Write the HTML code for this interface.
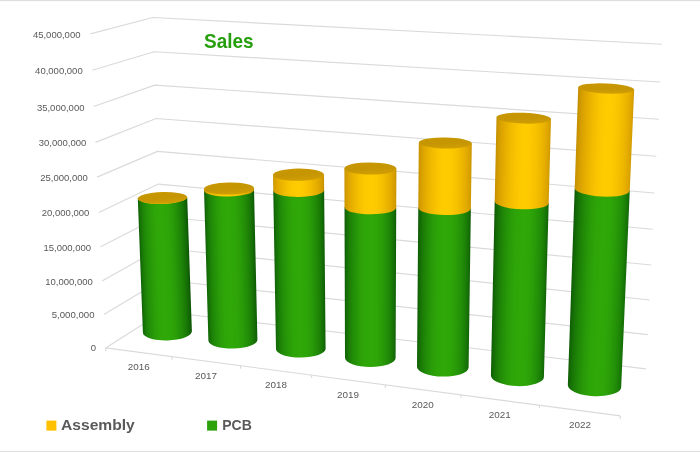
<!DOCTYPE html>
<html lang="en"><head><meta charset="utf-8"><title>Sales</title>
<style>html,body{margin:0;padding:0;background:#fff;overflow:hidden}body{width:700px;height:452px;position:relative}</style></head>
<body>
<svg width="700" height="452" viewBox="0 0 700 452" style="display:block;position:absolute;left:0;top:0">
<defs>
<linearGradient id="g0" gradientUnits="userSpaceOnUse" x1="137.80" y1="0" x2="187.20" y2="0" gradientTransform="matrix(1,0,0.03657,1,-7.237,0)"><stop offset="0.000" stop-color="#0e5f04"/><stop offset="0.038" stop-color="#167306"/><stop offset="0.094" stop-color="#1e8507"/><stop offset="0.164" stop-color="#249208"/><stop offset="0.258" stop-color="#2a9e08"/><stop offset="0.352" stop-color="#2ea608"/><stop offset="0.470" stop-color="#2fa808"/><stop offset="0.603" stop-color="#2da408"/><stop offset="0.709" stop-color="#289908"/><stop offset="0.815" stop-color="#208807"/><stop offset="0.894" stop-color="#197806"/><stop offset="0.958" stop-color="#126605"/><stop offset="1.000" stop-color="#0b5204"/></linearGradient>
<linearGradient id="y0" gradientUnits="userSpaceOnUse" x1="137.80" y1="0" x2="187.20" y2="0" gradientTransform="matrix(1,0,0.03657,1,-7.237,0)"><stop offset="0.000" stop-color="#cf9900"/><stop offset="0.038" stop-color="#dda500"/><stop offset="0.094" stop-color="#e7af00"/><stop offset="0.164" stop-color="#efb900"/><stop offset="0.258" stop-color="#f7c300"/><stop offset="0.352" stop-color="#fdc900"/><stop offset="0.470" stop-color="#ffcc00"/><stop offset="0.603" stop-color="#fbc600"/><stop offset="0.709" stop-color="#f2bc00"/><stop offset="0.815" stop-color="#e6ae00"/><stop offset="0.894" stop-color="#dba300"/><stop offset="0.958" stop-color="#cf9800"/><stop offset="1.000" stop-color="#c08c00"/></linearGradient>
<linearGradient id="g1" gradientUnits="userSpaceOnUse" x1="204.00" y1="0" x2="254.00" y2="0" gradientTransform="matrix(1,0,0.02574,1,-4.852,0)"><stop offset="0.000" stop-color="#0e5d04"/><stop offset="0.038" stop-color="#157106"/><stop offset="0.096" stop-color="#1d8307"/><stop offset="0.168" stop-color="#239008"/><stop offset="0.264" stop-color="#2a9d08"/><stop offset="0.360" stop-color="#2ea608"/><stop offset="0.480" stop-color="#2fa808"/><stop offset="0.610" stop-color="#2da408"/><stop offset="0.714" stop-color="#289a08"/><stop offset="0.818" stop-color="#218a07"/><stop offset="0.896" stop-color="#1a7a06"/><stop offset="0.958" stop-color="#136805"/><stop offset="1.000" stop-color="#0c5404"/></linearGradient>
<linearGradient id="y1" gradientUnits="userSpaceOnUse" x1="204.00" y1="0" x2="254.00" y2="0" gradientTransform="matrix(1,0,0.02574,1,-4.852,0)"><stop offset="0.000" stop-color="#cc9700"/><stop offset="0.038" stop-color="#dba300"/><stop offset="0.096" stop-color="#e5ad00"/><stop offset="0.168" stop-color="#eeb700"/><stop offset="0.264" stop-color="#f6c200"/><stop offset="0.360" stop-color="#fdc800"/><stop offset="0.480" stop-color="#ffcc00"/><stop offset="0.610" stop-color="#fbc600"/><stop offset="0.714" stop-color="#f3bd00"/><stop offset="0.818" stop-color="#e8b000"/><stop offset="0.896" stop-color="#dda500"/><stop offset="0.958" stop-color="#d19a00"/><stop offset="1.000" stop-color="#c28e00"/></linearGradient>
<linearGradient id="g2" gradientUnits="userSpaceOnUse" x1="273.00" y1="0" x2="324.00" y2="0" gradientTransform="matrix(1,0,0.01321,1,-2.308,0)"><stop offset="0.000" stop-color="#0d5b04"/><stop offset="0.039" stop-color="#156f06"/><stop offset="0.098" stop-color="#1c8107"/><stop offset="0.171" stop-color="#238f08"/><stop offset="0.269" stop-color="#299c08"/><stop offset="0.367" stop-color="#2ea508"/><stop offset="0.490" stop-color="#2fa808"/><stop offset="0.617" stop-color="#2da508"/><stop offset="0.720" stop-color="#299b08"/><stop offset="0.822" stop-color="#218b07"/><stop offset="0.898" stop-color="#1b7c06"/><stop offset="0.959" stop-color="#136a05"/><stop offset="1.000" stop-color="#0c5604"/></linearGradient>
<linearGradient id="y2" gradientUnits="userSpaceOnUse" x1="273.00" y1="0" x2="324.00" y2="0" gradientTransform="matrix(1,0,0.01321,1,-2.308,0)"><stop offset="0.000" stop-color="#ca9500"/><stop offset="0.039" stop-color="#d8a100"/><stop offset="0.098" stop-color="#e3ab00"/><stop offset="0.171" stop-color="#ecb500"/><stop offset="0.269" stop-color="#f5c100"/><stop offset="0.367" stop-color="#fcc800"/><stop offset="0.490" stop-color="#ffcc00"/><stop offset="0.617" stop-color="#fcc700"/><stop offset="0.720" stop-color="#f4be00"/><stop offset="0.822" stop-color="#e9b200"/><stop offset="0.898" stop-color="#dfa700"/><stop offset="0.959" stop-color="#d49c00"/><stop offset="1.000" stop-color="#c59000"/></linearGradient>
<linearGradient id="g3" gradientUnits="userSpaceOnUse" x1="344.40" y1="0" x2="396.40" y2="0" gradientTransform="matrix(1,0,-0.00053,1,0.089,0)"><stop offset="0.000" stop-color="#0c5804"/><stop offset="0.040" stop-color="#146c06"/><stop offset="0.100" stop-color="#1c7e06"/><stop offset="0.175" stop-color="#228d08"/><stop offset="0.275" stop-color="#299c08"/><stop offset="0.375" stop-color="#2ea508"/><stop offset="0.500" stop-color="#2fa808"/><stop offset="0.625" stop-color="#2ea508"/><stop offset="0.725" stop-color="#299c08"/><stop offset="0.825" stop-color="#228d08"/><stop offset="0.900" stop-color="#1c7e06"/><stop offset="0.960" stop-color="#146c06"/><stop offset="1.000" stop-color="#0c5804"/></linearGradient>
<linearGradient id="y3" gradientUnits="userSpaceOnUse" x1="344.40" y1="0" x2="396.40" y2="0" gradientTransform="matrix(1,0,-0.00053,1,0.089,0)"><stop offset="0.000" stop-color="#c89200"/><stop offset="0.040" stop-color="#d69e00"/><stop offset="0.100" stop-color="#e1a900"/><stop offset="0.175" stop-color="#eab400"/><stop offset="0.275" stop-color="#f4c000"/><stop offset="0.375" stop-color="#fcc800"/><stop offset="0.500" stop-color="#ffcc00"/><stop offset="0.625" stop-color="#fcc800"/><stop offset="0.725" stop-color="#f4c000"/><stop offset="0.825" stop-color="#eab400"/><stop offset="0.900" stop-color="#e1a900"/><stop offset="0.960" stop-color="#d69e00"/><stop offset="1.000" stop-color="#c89200"/></linearGradient>
<linearGradient id="g4" gradientUnits="userSpaceOnUse" x1="418.80" y1="0" x2="471.80" y2="0" gradientTransform="matrix(1,0,-0.01116,1,1.595,0)"><stop offset="0.000" stop-color="#0c5604"/><stop offset="0.041" stop-color="#136a05"/><stop offset="0.103" stop-color="#1b7c06"/><stop offset="0.180" stop-color="#218b07"/><stop offset="0.283" stop-color="#299b08"/><stop offset="0.386" stop-color="#2da508"/><stop offset="0.515" stop-color="#2fa808"/><stop offset="0.636" stop-color="#2ea508"/><stop offset="0.733" stop-color="#299c08"/><stop offset="0.830" stop-color="#238f08"/><stop offset="0.903" stop-color="#1c8107"/><stop offset="0.961" stop-color="#156f06"/><stop offset="1.000" stop-color="#0d5b04"/></linearGradient>
<linearGradient id="y4" gradientUnits="userSpaceOnUse" x1="418.80" y1="0" x2="471.80" y2="0" gradientTransform="matrix(1,0,-0.01116,1,1.595,0)"><stop offset="0.000" stop-color="#c59000"/><stop offset="0.041" stop-color="#d49c00"/><stop offset="0.103" stop-color="#dfa700"/><stop offset="0.180" stop-color="#e9b200"/><stop offset="0.283" stop-color="#f4be00"/><stop offset="0.386" stop-color="#fcc700"/><stop offset="0.515" stop-color="#ffcc00"/><stop offset="0.636" stop-color="#fcc800"/><stop offset="0.733" stop-color="#f5c100"/><stop offset="0.830" stop-color="#ecb500"/><stop offset="0.903" stop-color="#e3ab00"/><stop offset="0.961" stop-color="#d8a100"/><stop offset="1.000" stop-color="#ca9500"/></linearGradient>
<linearGradient id="g5" gradientUnits="userSpaceOnUse" x1="496.50" y1="0" x2="551.00" y2="0" gradientTransform="matrix(1,0,-0.02460,1,2.908,0)"><stop offset="0.000" stop-color="#0c5404"/><stop offset="0.042" stop-color="#136805"/><stop offset="0.106" stop-color="#1a7a06"/><stop offset="0.185" stop-color="#218a07"/><stop offset="0.291" stop-color="#289a08"/><stop offset="0.398" stop-color="#2da408"/><stop offset="0.530" stop-color="#2fa808"/><stop offset="0.647" stop-color="#2ea608"/><stop offset="0.742" stop-color="#2a9d08"/><stop offset="0.836" stop-color="#239008"/><stop offset="0.906" stop-color="#1d8307"/><stop offset="0.962" stop-color="#157106"/><stop offset="1.000" stop-color="#0e5d04"/></linearGradient>
<linearGradient id="y5" gradientUnits="userSpaceOnUse" x1="496.50" y1="0" x2="551.00" y2="0" gradientTransform="matrix(1,0,-0.02460,1,2.908,0)"><stop offset="0.000" stop-color="#c28e00"/><stop offset="0.042" stop-color="#d19a00"/><stop offset="0.106" stop-color="#dda500"/><stop offset="0.185" stop-color="#e8b000"/><stop offset="0.291" stop-color="#f3bd00"/><stop offset="0.398" stop-color="#fbc600"/><stop offset="0.530" stop-color="#ffcc00"/><stop offset="0.647" stop-color="#fdc800"/><stop offset="0.742" stop-color="#f6c200"/><stop offset="0.836" stop-color="#eeb700"/><stop offset="0.906" stop-color="#e5ad00"/><stop offset="0.962" stop-color="#dba300"/><stop offset="1.000" stop-color="#cc9700"/></linearGradient>
<linearGradient id="g6" gradientUnits="userSpaceOnUse" x1="578.20" y1="0" x2="634.20" y2="0" gradientTransform="matrix(1,0,-0.03930,1,3.478,0)"><stop offset="0.000" stop-color="#0b5204"/><stop offset="0.043" stop-color="#126605"/><stop offset="0.108" stop-color="#197806"/><stop offset="0.189" stop-color="#208807"/><stop offset="0.297" stop-color="#289908"/><stop offset="0.405" stop-color="#2da408"/><stop offset="0.540" stop-color="#2fa808"/><stop offset="0.655" stop-color="#2ea608"/><stop offset="0.747" stop-color="#2a9e08"/><stop offset="0.839" stop-color="#249208"/><stop offset="0.908" stop-color="#1e8507"/><stop offset="0.963" stop-color="#167306"/><stop offset="1.000" stop-color="#0e5f04"/></linearGradient>
<linearGradient id="y6" gradientUnits="userSpaceOnUse" x1="578.20" y1="0" x2="634.20" y2="0" gradientTransform="matrix(1,0,-0.03930,1,3.478,0)"><stop offset="0.000" stop-color="#c08c00"/><stop offset="0.043" stop-color="#cf9800"/><stop offset="0.108" stop-color="#dba300"/><stop offset="0.189" stop-color="#e6ae00"/><stop offset="0.297" stop-color="#f2bc00"/><stop offset="0.405" stop-color="#fbc600"/><stop offset="0.540" stop-color="#ffcc00"/><stop offset="0.655" stop-color="#fdc900"/><stop offset="0.747" stop-color="#f7c300"/><stop offset="0.839" stop-color="#efb900"/><stop offset="0.908" stop-color="#e7af00"/><stop offset="0.963" stop-color="#dda500"/><stop offset="1.000" stop-color="#cf9900"/></linearGradient>
<linearGradient id="tg" x1="0" y1="0" x2="0.3" y2="1"><stop offset="0" stop-color="#c99800"/><stop offset="0.6" stop-color="#c59503"/><stop offset="1" stop-color="#cf9d04"/></linearGradient>
</defs>
<rect width="700" height="452" fill="#fff"/>
<rect x="0" y="0" width="700" height="1" fill="#dedede"/>
<rect x="0" y="1" width="700" height="1" fill="#fbfbfb"/>
<rect x="0" y="451" width="700" height="1" fill="#e0e0e0"/>
<rect x="0" y="450" width="700" height="1" fill="#fbfbfb"/>
<g fill="none" stroke="#dadada" stroke-width="1.15" stroke-linejoin="round">
<polyline points="90.3,33.9 152.8,17.5 661.9,44.2"/>
<polyline points="92.1,70.2 154.1,51.7 660.1,82"/>
<polyline points="93.6,106.5 154.8,85.1 658.9,119.3"/>
<polyline points="95.4,142.4 156.1,118.5 656.3,156.3"/>
<polyline points="97,177.1 157.4,151.4 654.5,193"/>
<polyline points="98.8,212.4 158.4,184.1 652.9,229.3"/>
<polyline points="100.6,246.8 159.5,216.5 651.4,265"/>
<polyline points="102.1,281 160.6,248.0 649.6,300"/>
<polyline points="103.9,314.4 161.8,279.8 647.8,334.6"/>
<polyline points="105.7,347.9 162.9,311.5 646,368.9"/>
<line x1="105.7" y1="347.9" x2="620.3" y2="415.9"/>
<line x1="105.7" y1="347.9" x2="105.7" y2="350.9"/>
<line x1="172" y1="356.7" x2="172" y2="359.7"/>
<line x1="240.6" y1="365.7" x2="240.6" y2="368.7"/>
<line x1="311.6" y1="375.1" x2="311.6" y2="378.1"/>
<line x1="385.4" y1="384.9" x2="385.4" y2="387.9"/>
<line x1="461" y1="394.8" x2="461" y2="397.8"/>
<line x1="539.5" y1="405.2" x2="539.5" y2="408.2"/>
<line x1="620.3" y1="415.9" x2="620.3" y2="418.9"/>
</g>
<path fill="url(#g0)" d="M137.80,198.35 L142.91,332.63 A24.50,8.50 -1.7 0 0 191.89,331.17 L187.18,196.88 Z"/>
<path fill="url(#y0)" d="M137.81,198.63 L137.80,198.35 A24.70,6.38 -1.7 0 0 187.18,196.88 L187.19,197.17 Z"/>
<ellipse cx="162.50" cy="197.90" rx="24.70" ry="5.90" fill="url(#tg)" transform="rotate(-1.7 162.50 197.90)"/>
<path fill="url(#g1)" d="M204.05,190.60 L208.40,340.43 A24.50,8.60 -1.0 0 0 257.40,339.57 L254.03,189.73 Z"/>
<path fill="url(#y1)" d="M204.00,188.94 L204.05,190.60 A24.99,6.34 -1.0 0 0 254.03,189.73 L254.00,188.06 Z"/>
<ellipse cx="229.00" cy="188.50" rx="25.00" ry="6.00" fill="url(#tg)" transform="rotate(-1.0 229.00 188.50)"/>
<path fill="url(#g2)" d="M273.27,190.72 L276.00,348.97 A24.80,8.80 -0.4 0 0 325.60,348.63 L324.14,190.37 Z"/>
<path fill="url(#y2)" d="M273.00,174.88 L273.27,190.72 A25.44,6.46 -0.4 0 0 324.14,190.37 L324.00,174.52 Z"/>
<ellipse cx="298.50" cy="174.70" rx="25.50" ry="6.10" fill="url(#tg)" transform="rotate(-0.4 298.50 174.70)"/>
<path fill="url(#g3)" d="M344.52,207.37 L345.00,357.72 A25.30,9.10 0.4 0 0 395.60,358.08 L396.23,207.73 Z"/>
<path fill="url(#y3)" d="M344.40,168.32 L344.52,207.37 A25.86,6.85 0.4 0 0 396.23,207.73 L396.40,168.68 Z"/>
<ellipse cx="370.40" cy="168.50" rx="26.00" ry="6.10" fill="url(#tg)" transform="rotate(0.4 370.40 168.50)"/>
<path fill="url(#g4)" d="M418.28,207.72 L417.00,366.60 A25.80,9.50 1.1 0 0 468.60,367.60 L470.86,208.73 Z"/>
<path fill="url(#y4)" d="M418.80,142.49 L418.28,207.72 A26.30,6.98 1.1 0 0 470.86,208.73 L471.80,143.51 Z"/>
<ellipse cx="445.30" cy="143.00" rx="26.50" ry="5.50" fill="url(#tg)" transform="rotate(1.1 445.30 143.00)"/>
<path fill="url(#g5)" d="M494.69,201.35 L490.91,375.42 A26.50,9.80 1.9 0 0 543.89,377.18 L548.68,203.14 Z"/>
<path fill="url(#y5)" d="M496.51,117.30 L494.69,201.35 A27.01,7.06 1.9 0 0 548.68,203.14 L550.99,119.10 Z"/>
<ellipse cx="523.75" cy="118.20" rx="27.25" ry="5.40" fill="url(#tg)" transform="rotate(1.9 523.75 118.20)"/>
<path fill="url(#g6)" d="M574.70,188.37 L567.83,384.99 A26.70,10.10 2.6 0 0 621.17,387.41 L629.76,190.87 Z"/>
<path fill="url(#y6)" d="M578.23,87.23 L574.70,188.37 A27.56,6.98 2.6 0 0 629.76,190.87 L634.17,89.77 Z"/>
<ellipse cx="606.20" cy="88.50" rx="28.00" ry="5.00" fill="url(#tg)" transform="rotate(2.6 606.20 88.50)"/>
<g font-family="'Liberation Sans', Arial, sans-serif" font-size="9.9" fill="#595959">
<text x="32.9" y="37.7" textLength="47.6" lengthAdjust="spacingAndGlyphs">45,000,000</text>
<text x="35.1" y="74.3" textLength="47.6" lengthAdjust="spacingAndGlyphs">40,000,000</text>
<text x="36.9" y="110.6" textLength="47.6" lengthAdjust="spacingAndGlyphs">35,000,000</text>
<text x="38.7" y="146" textLength="47.6" lengthAdjust="spacingAndGlyphs">30,000,000</text>
<text x="40.2" y="181.1" textLength="47.6" lengthAdjust="spacingAndGlyphs">25,000,000</text>
<text x="41.8" y="216" textLength="47.6" lengthAdjust="spacingAndGlyphs">20,000,000</text>
<text x="43.5" y="250.7" textLength="47.6" lengthAdjust="spacingAndGlyphs">15,000,000</text>
<text x="45.2" y="284.6" textLength="47.6" lengthAdjust="spacingAndGlyphs">10,000,000</text>
<text x="51.7" y="317.6" textLength="42.8" lengthAdjust="spacingAndGlyphs">5,000,000</text>
<text x="90.7" y="350.7" textLength="5.3" lengthAdjust="spacingAndGlyphs">0</text>
<text x="127.8" y="370.2" textLength="22" lengthAdjust="spacingAndGlyphs">2016</text>
<text x="195.0" y="378.7" textLength="22" lengthAdjust="spacingAndGlyphs">2017</text>
<text x="265.0" y="388" textLength="22" lengthAdjust="spacingAndGlyphs">2018</text>
<text x="337.0" y="398" textLength="22" lengthAdjust="spacingAndGlyphs">2019</text>
<text x="411.7" y="407.6" textLength="22" lengthAdjust="spacingAndGlyphs">2020</text>
<text x="488.7" y="418" textLength="22" lengthAdjust="spacingAndGlyphs">2021</text>
<text x="569.0" y="427.9" textLength="22" lengthAdjust="spacingAndGlyphs">2022</text>
</g>
<text x="204" y="48" font-family="'Liberation Sans', Arial, sans-serif" font-weight="bold" font-size="20.6" fill="#269f0c" textLength="49.6" lengthAdjust="spacingAndGlyphs">Sales</text>
<rect x="46.4" y="420.6" width="10" height="10" fill="#ffc000"/>
<rect x="207.1" y="420.6" width="10" height="10" fill="#2ba10c"/>
<g font-family="'Liberation Sans', Arial, sans-serif" font-weight="bold" font-size="14.4" fill="#595959">
<text x="61" y="430.2" textLength="73.8" lengthAdjust="spacingAndGlyphs">Assembly</text>
<text x="222.2" y="430.3" textLength="29.6" lengthAdjust="spacingAndGlyphs">PCB</text>
</g>
</svg>
</body></html>
